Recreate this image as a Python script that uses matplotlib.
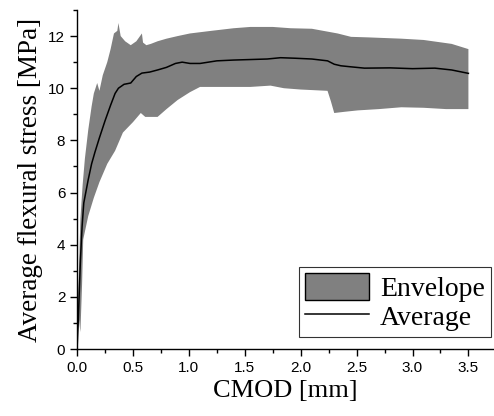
import numpy as np
import matplotlib.pyplot as plt
from matplotlib.patches import Patch
from matplotlib.lines import Line2D
from matplotlib.ticker import MultipleLocator

# average curve
avg_x = [0.0, 0.01, 0.02, 0.03, 0.045, 0.06, 0.1, 0.13, 0.16, 0.2, 0.25, 0.3, 0.34, 0.37,
         0.42, 0.48, 0.53, 0.58, 0.65, 0.72, 0.8, 0.88, 0.94, 1.01, 1.1, 1.25, 1.4, 1.55,
         1.7, 1.82, 1.95, 2.1, 2.24, 2.3, 2.36, 2.45, 2.57, 2.8, 3.0, 3.2, 3.35, 3.5]
avg_y = [0.0, 1.0, 2.2, 3.4, 4.7, 5.6, 6.5, 7.1, 7.55, 8.1, 8.75, 9.35, 9.8, 10.0,
         10.15, 10.2, 10.45, 10.58, 10.62, 10.7, 10.8, 10.95, 11.0, 10.95, 10.95, 11.05, 11.08, 11.1,
         11.12, 11.17, 11.15, 11.12, 11.05, 10.92, 10.86, 10.82, 10.77, 10.78, 10.75, 10.77, 10.7, 10.57]

# envelope upper edge
up_x = [0.0, 0.01, 0.02, 0.03, 0.05, 0.07, 0.1, 0.13, 0.15, 0.18, 0.2, 0.23, 0.27, 0.3, 0.33,
        0.36, 0.37, 0.39, 0.43, 0.48, 0.53, 0.58, 0.59, 0.62, 0.66, 0.72, 0.8, 0.9, 1.01,
        1.2, 1.4, 1.55, 1.75, 1.91, 2.1, 2.33, 2.45, 2.6, 2.9, 3.1, 3.35, 3.5]
up_y = [0.5, 2.0, 3.5, 5.0, 6.3, 7.3, 8.4, 9.3, 9.8, 10.2, 9.9, 10.5, 11.0, 11.5, 12.1,
        12.2, 12.5, 12.0, 11.8, 11.65, 11.8, 12.1, 11.75, 11.65, 11.7, 11.8, 11.9, 12.0, 12.1,
        12.2, 12.3, 12.35, 12.35, 12.3, 12.28, 12.1, 11.97, 11.95, 11.9, 11.85, 11.7, 11.5]

# envelope lower edge
lo_x = [0.0, 0.015, 0.03, 0.045, 0.055, 0.1, 0.15, 0.2, 0.27, 0.34, 0.41, 0.5, 0.57,
        0.61, 0.72, 0.8, 0.9, 1.01, 1.1, 1.3, 1.55, 1.73, 1.85, 2.0, 2.24, 2.27, 2.3,
        2.4, 2.51, 2.7, 2.9, 3.1, 3.3, 3.5]
lo_y = [0.0, 1.2, 0.65, 2.5, 4.2, 5.1, 5.8, 6.4, 7.1, 7.6, 8.3, 8.7, 9.05,
        8.9, 8.9, 9.2, 9.55, 9.85, 10.05, 10.05, 10.05, 10.1, 10.0, 9.95, 9.9, 9.5, 9.05,
        9.1, 9.15, 9.2, 9.27, 9.25, 9.2, 9.2]

fig = plt.figure(figsize=(4.94, 4.16), dpi=100)
ax = fig.add_axes([0.156, 0.161, 0.842, 0.815])

env_x = np.concatenate([up_x, lo_x[::-1]])
env_y = np.concatenate([up_y, lo_y[::-1]])
ax.fill(env_x, env_y, facecolor='#808080', edgecolor='none', lw=0)
ax.plot(avg_x, avg_y, color='black', lw=1.1)

ax.set_xlim(0, 3.72)
ax.set_ylim(0, 13)
ax.xaxis.set_major_locator(MultipleLocator(0.5))
ax.xaxis.set_minor_locator(MultipleLocator(0.25))
ax.yaxis.set_major_locator(MultipleLocator(2))
ax.yaxis.set_minor_locator(MultipleLocator(1))
ax.xaxis.set_major_formatter(plt.FuncFormatter(lambda v, p: f'{v:.1f}'))

for s in ['top', 'right']:
    ax.spines[s].set_visible(False)
for s in ['left', 'bottom']:
    ax.spines[s].set_linewidth(1.0)

ax.tick_params(which='major', direction='out', length=5, width=1, labelsize=11)
ax.tick_params(which='minor', direction='out', length=3, width=1)
for lab in ax.get_xticklabels() + ax.get_yticklabels():
    lab.set_family('Liberation Sans')

serif = 'Liberation Serif'
ax.set_xlabel('CMOD [mm]', family=serif, fontsize=19, labelpad=4)
ax.set_ylabel('Average flexural stress [MPa]', family=serif, fontsize=19.5, labelpad=4)

# legend proxies
env_h = Patch(facecolor='#808080', edgecolor='black', lw=1.0)
avg_h = Line2D([], [], color='black', lw=1.1)
leg = ax.legend([env_h, avg_h], ['Envelope', 'Average'], loc='lower right',
                bbox_to_anchor=(0.995, 0.035), borderaxespad=0,
                prop={'family': serif, 'size': 20}, frameon=True, fancybox=False,
                edgecolor='black', handlelength=2.3, handleheight=1.1,
                labelspacing=0.0, borderpad=0.22, handletextpad=0.4)
leg.get_frame().set_linewidth(0.8)

fig.savefig('out.png', dpi=100)
